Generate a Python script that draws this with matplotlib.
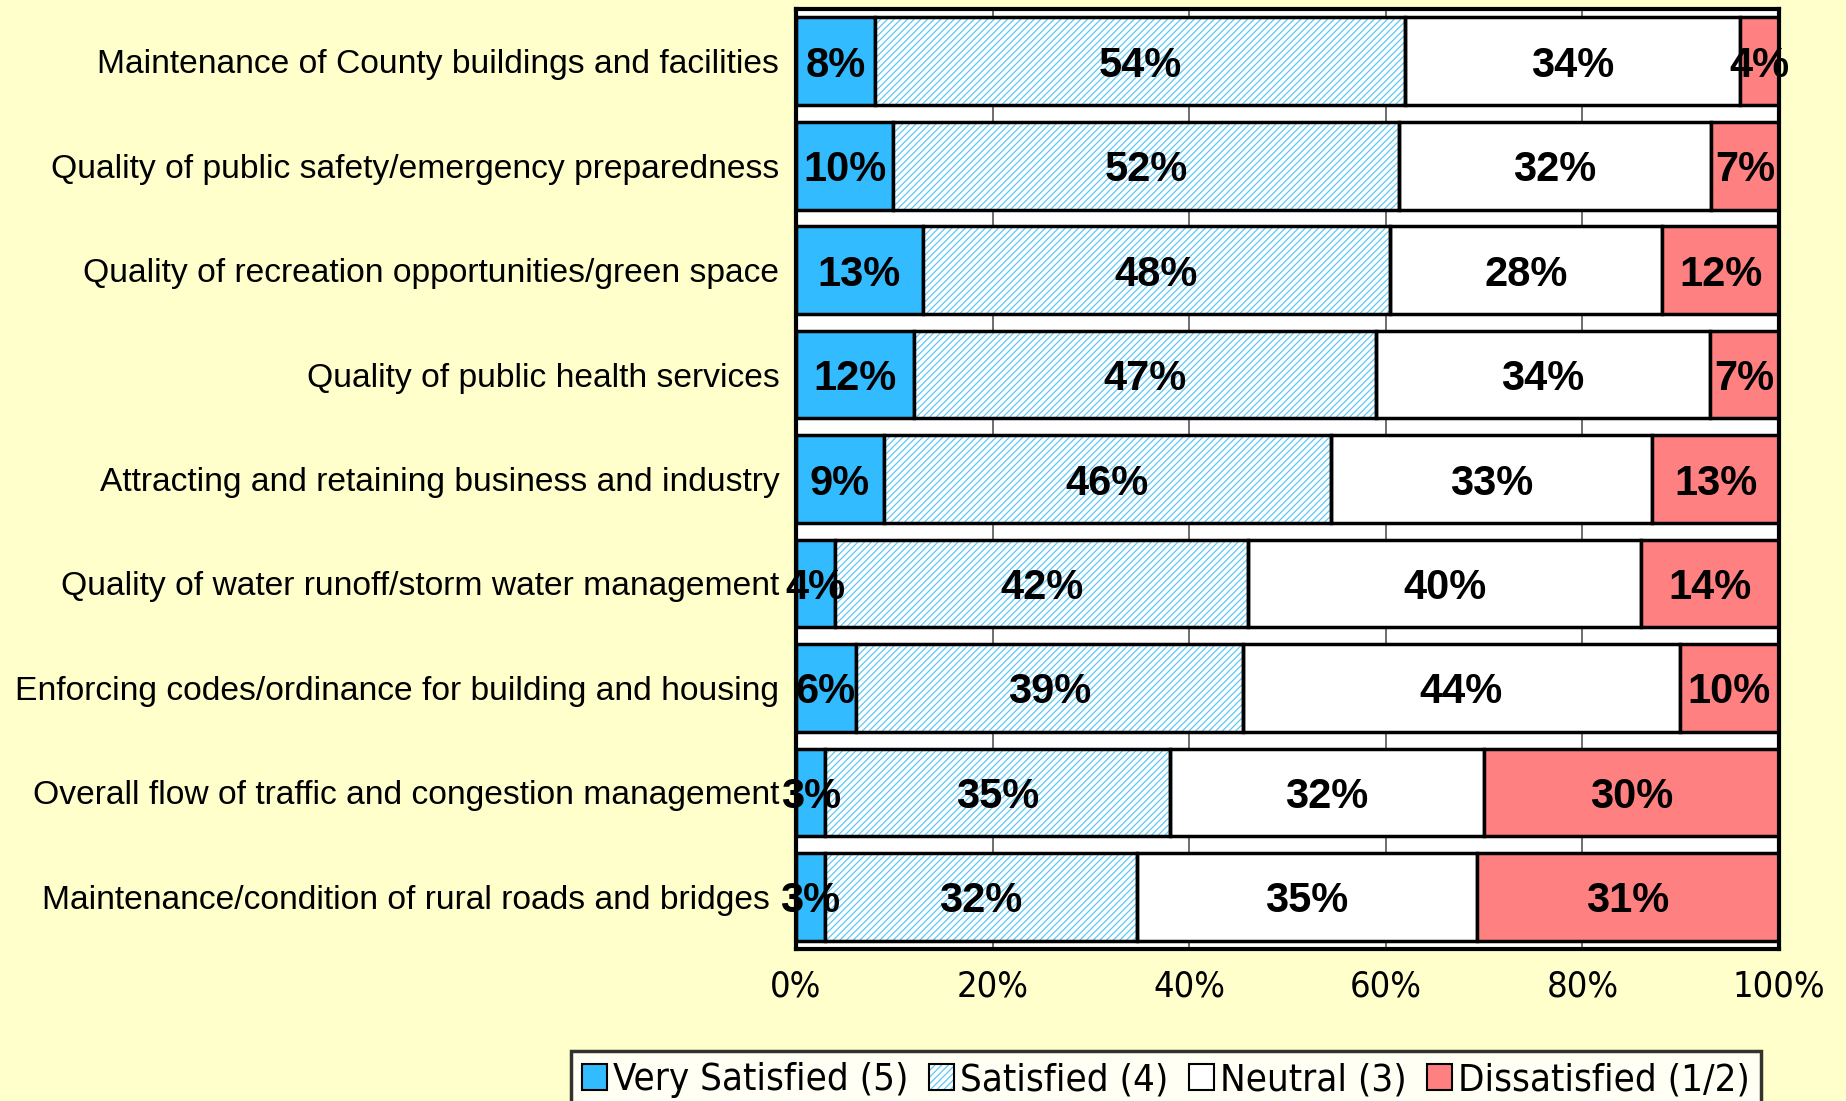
import matplotlib
matplotlib.use("Agg")
import matplotlib.pyplot as plt
from matplotlib.patches import Patch
from matplotlib.legend_handler import HandlerTuple
from matplotlib import font_manager
import numpy as np

# ---------------------------------------------------------------------------
# Data (top row first)
# ---------------------------------------------------------------------------

categories = [
    "Maintenance of County buildings and facilities",
    "Quality of public safety/emergency preparedness",
    "Quality of recreation opportunities/green space",
    "Quality of public health services",
    "Attracting and retaining business and industry",
    "Quality of water runoff/storm water management",
    "Enforcing codes/ordinance for building and housing",
    "Overall flow of traffic and congestion management",
    "Maintenance/condition of rural roads and bridges ",
]
very_satisfied = [8, 10, 13, 12, 9, 4, 6, 3, 3]
satisfied      = [54, 52, 48, 47, 46, 42, 39, 35, 32]
neutral        = [34, 32, 28, 34, 33, 40, 44, 32, 35]
dissatisfied   = [4, 7, 12, 7, 13, 14, 10, 30, 31]

series_names = ["Very Satisfied (5)", "Satisfied (4)", "Neutral (3)", "Dissatisfied (1/2)"]
x_ticks = [0, 20, 40, 60, 80, 100]

# ---------------------------------------------------------------------------
# Style
# ---------------------------------------------------------------------------

BG = "#FFFFCC"
C_VS = "#33BBFF"
C_HATCH = "#5CC8F8"
C_NEU = "#FFFFFF"
C_DIS = "#FF8080"
HATCH = "/////"

plt.rcParams["font.family"] = ["Liberation Sans", "DejaVu Sans"]
plt.rcParams["hatch.linewidth"] = 0.9

# look for a narrow sans face for the tick labels / legend (Arial Narrow look)
narrow_file = None
for f in font_manager.fontManager.ttflist:
    nm = f.name.lower()
    if f.style == "normal" and f.weight in (400, "normal", "regular") and (
            "narrow" in nm or "condensed" in nm or f.stretch in ("condensed", "semi-condensed")):
        if "mono" not in nm and "serif" not in nm.replace("sans serif", ""):
            narrow_file = f.fname
            break
if narrow_file:
    NARROW = font_manager.FontProperties(fname=narrow_file)
    tick_size, leg_size = 26, 27.5
else:
    NARROW = font_manager.FontProperties(family="Liberation Sans")
    tick_size, leg_size = 24, 25

fig = plt.figure(figsize=(18.46, 11.01), dpi=100, facecolor=BG)
ax = fig.add_axes([0.4312, 0.138, 0.5325, 0.8538])
ax.set_facecolor("white")

# 100% stacked: normalise each row
raw = np.array([very_satisfied, satisfied, neutral, dissatisfied], dtype=float)
pct = raw / raw.sum(axis=0) * 100
y = np.arange(len(categories))
h = 0.84

ax.set_axisbelow(True)
ax.grid(axis="x", color="#555555", linewidth=1.2)

left = np.zeros(len(categories))
ax.barh(y, pct[0], h, left=left, color=C_VS, edgecolor="black", linewidth=2.5, zorder=2)
left += pct[0]
# satisfied: hatched fill then black outline
ax.barh(y, pct[1], h, left=left, color="white", edgecolor=C_HATCH, hatch=HATCH,
        linewidth=0, zorder=2)
ax.barh(y, pct[1], h, left=left, fill=False, edgecolor="black", linewidth=2.5, zorder=3)
left += pct[1]
ax.barh(y, pct[2], h, left=left, color=C_NEU, edgecolor="black", linewidth=2.5, zorder=2)
left += pct[2]
ax.barh(y, pct[3], h, left=left, color=C_DIS, edgecolor="black", linewidth=2.5, zorder=2)

# segment labels
left = np.zeros(len(categories))
for k in range(4):
    for i in range(len(categories)):
        ax.text(left[i] + pct[k, i] / 2, y[i], f"{int(raw[k, i])}%",
                ha="center", va="center_baseline", fontsize=30, fontweight="bold",
                color="black", zorder=5)
    left += pct[k]

ax.set_xlim(0, 100)
ax.set_ylim(len(categories) - 0.5, -0.5)
ax.set_xticks(x_ticks)
ax.set_xticklabels([f"{t}%" for t in x_ticks])
for lab in ax.get_xticklabels():
    lab.set_fontproperties(NARROW)
    lab.set_fontsize(tick_size)
ax.set_yticks(y)
ax.set_yticklabels(categories, fontsize=24.2)
ax.tick_params(axis="x", length=0, pad=15)
ax.tick_params(axis="y", length=0, pad=12)
for sp in ax.spines.values():
    sp.set_linewidth(3)
    sp.set_color("black")

# legend
h_vs = Patch(facecolor=C_VS, edgecolor="black", linewidth=1.5)
h_sat = (Patch(facecolor="white", edgecolor=C_HATCH, hatch=HATCH, linewidth=0),
         Patch(fill=False, edgecolor="black", linewidth=1.5))
h_neu = Patch(facecolor="white", edgecolor="black", linewidth=1.5)
h_dis = Patch(facecolor=C_DIS, edgecolor="black", linewidth=1.5)
leg_prop = NARROW.copy()
leg_prop.set_size(leg_size)
leg = fig.legend([h_vs, h_sat, h_neu, h_dis], series_names,
                 handler_map={tuple: HandlerTuple(ndivide=1, pad=0)},
                 loc="upper center", bbox_to_anchor=(0.6316, 0.0454), ncol=4,
                 prop=leg_prop, borderaxespad=0,
                 handlelength=0.65, handleheight=0.65, handletextpad=0.15,
                 columnspacing=0.55, borderpad=0.3, frameon=True, fancybox=False)
leg.get_frame().set_edgecolor("black")
leg.get_frame().set_linewidth(2.5)
leg.get_frame().set_facecolor("white")

fig.savefig("out.png", dpi=100, facecolor=BG)
